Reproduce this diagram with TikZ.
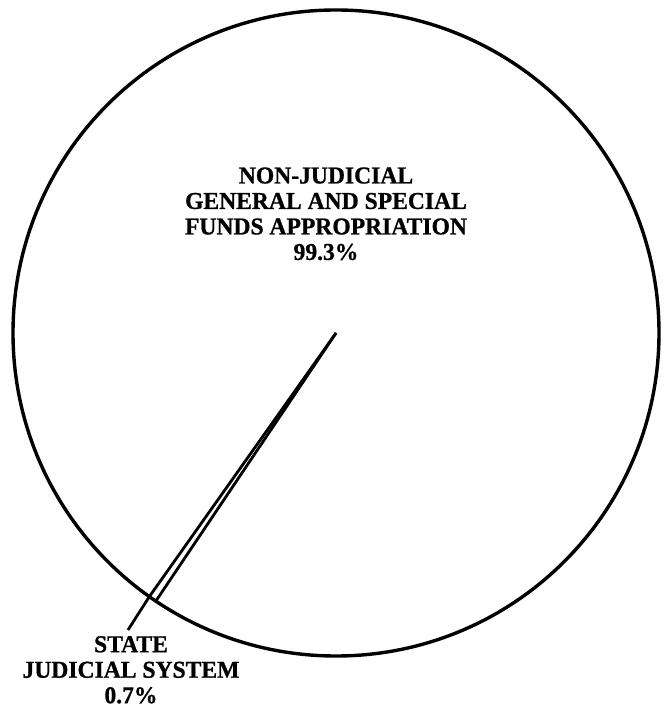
\documentclass[tikz,border=0pt]{standalone}
\usepackage{fontspec}
\setmainfont[FakeStretch=0.975,BoldFeatures={FakeBold=0.8}]{Liberation Serif}
\usepackage{tikz}

\begin{document}
\begin{tikzpicture}[x=1pt,y=1pt,
	rim/.style={black, line width=3.4pt},
	cut/.style={black, line width=2.8pt},
	pielabel/.style={align=center, inner sep=0pt, anchor=north, font=\bfseries\fontsize{24.2}{25.5}\selectfont}]
	\useasboundingbox (0,0) rectangle (666,707);
	\coordinate (ctr) at (336,374);
	\draw[rim] (ctr) circle (323);
	
	\path (ctr) ++(234.7:323) coordinate (judA);
	\path (ctr) ++(236.1:323) coordinate (judB);
	\draw[cut] (ctr) -- (judA);
	\draw[cut] (ctr) -- (judB);
	
	\node[pielabel] (bigpart) at (326,539.8) {NON-JUDICIAL\\GENERAL AND SPECIAL\\FUNDS APPROPRIATION\\99.3\%};
	\node[pielabel] (smallpart) at (131,71) {STATE\\JUDICIAL SYSTEM\\0.7\%};
	
	\coordinate (tip) at (128,77);
	\draw[cut] (judA) -- (tip);
\end{tikzpicture}
\end{document}
